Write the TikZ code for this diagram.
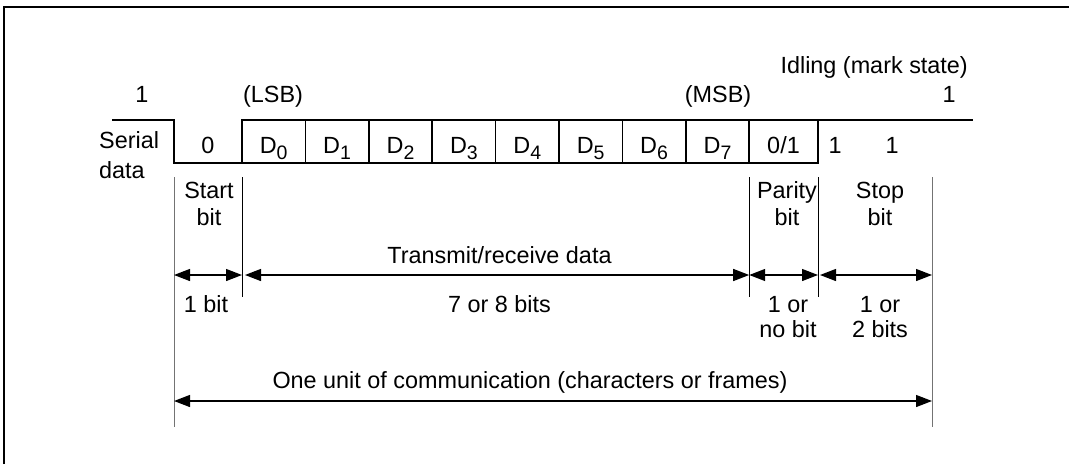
\documentclass[tikz,border=0pt]{standalone}
\usepackage{fontspec}
\setmainfont{Liberation Sans}
\usetikzlibrary{arrows.meta}

\tikzset{
  lbl/.style={font=\fontsize{23.4}{27}\selectfont, inner sep=0pt, anchor=base},
  sigline/.style={line width=1.6pt},
  extline/.style={line width=1pt},
  dimarrow/.style={line width=1.3pt, arrows={Triangle[length=16pt,width=12pt]-Triangle[length=16pt,width=12pt]}},
}
\newcommand{\dbit}[1]{D\raisebox{-6.5pt}{\fontsize{19.5}{19.5}\selectfont #1}}

\begin{document}
\begin{tikzpicture}[x=1pt,y=-1pt]
  \useasboundingbox (0,0) rectangle (1069,464);
  \def\cellW{63.4}
  \def\xD{242}
  \def\yH{120}
  \def\yL{163}

  % Frame
  \draw[line width=2pt] (4,464) -- (4,7) -- (1069,7);

  % Serial data line
  \draw[sigline] (112,\yH) -- (174,\yH) -- (174,\yL) -- (818,\yL) -- (818,\yH);
  \draw[sigline] (\xD,\yL) -- (\xD,\yH) -- (973,\yH);
  \foreach \i in {1,...,8} {
    \draw[sigline] ({\xD+\i*\cellW},\yH) -- ({\xD+\i*\cellW},\yL);
  }

  % Bit values
  \node[lbl] (b0) at (208,153) {0};
  \foreach \i in {0,...,7} {
    \node[lbl] (d\i) at ({\xD+(\i+0.5)*\cellW},153) {\dbit{\i}};
  }
  \node[lbl] (par) at (783.5,153) {0/1};
  \node[lbl] (stop1) at (835,153) {1};
  \node[lbl] (stop2) at (892,153) {1};

  % Labels above the line
  \node[lbl] (one1) at (142,102) {1};
  \node[lbl] (lsb) at (273,102) {(LSB)};
  \node[lbl] (msb) at (718,102) {(MSB)};
  \node[lbl] (one2) at (949,102) {1};
  \node[lbl,anchor=base east] (idle) at (968,73) {Idling (mark state)};
  \node[lbl,anchor=base west,align=left] (serial) at (99,178) {Serial\\[3pt]data};

  % Field names
  \node[lbl,align=center] (start) at (209,225) {Start\\bit};
  \node[lbl,align=center] (parity) at (787,225) {Parity\\bit};
  \node[lbl,align=center] (stop) at (880,225) {Stop\\bit};

  % Extension lines
  \draw[extline,black!55] (174,177) -- (174,427);
  \draw[extline,black!55] (932,177) -- (932,427);
  \foreach \x in {242,749.2,818} {
    \draw[extline] (\x,177) -- (\x,297);
  }

  % Field widths
  \coordinate (t0) at (174,275);
  \coordinate (t1) at (242,275);
  \coordinate (t2) at (749.2,275);
  \coordinate (t3) at (818,275);
  \coordinate (t4) at (932,275);
  \draw[dimarrow] (t0) -- (t1);
  \draw[dimarrow,shorten <=3pt] (t1) -- (t2);
  \draw[dimarrow] (t2) -- (t3);
  \draw[dimarrow,shorten <=2pt] (t3) -- (t4);

  \node[lbl] (trx) at (499.5,263) {Transmit/receive data};
  \node[lbl] (w1) at (206,312) {1 bit};
  \node[lbl] (w8) at (499.5,312) {7 or 8 bits};
  \node[lbl,align=center] (wp) at (788,337) {1 or\\[-2pt]no bit};
  \node[lbl,align=center] (ws) at (880,337) {1 or\\[-2pt]2 bits};

  % One unit
  \node[lbl] (unit) at (530,388) {One unit of communication (characters or frames)};
  \coordinate (u0) at (174,401);
  \coordinate (u1) at (932,401);
  \draw[dimarrow] (u0) -- (u1);
\end{tikzpicture}
\end{document}
